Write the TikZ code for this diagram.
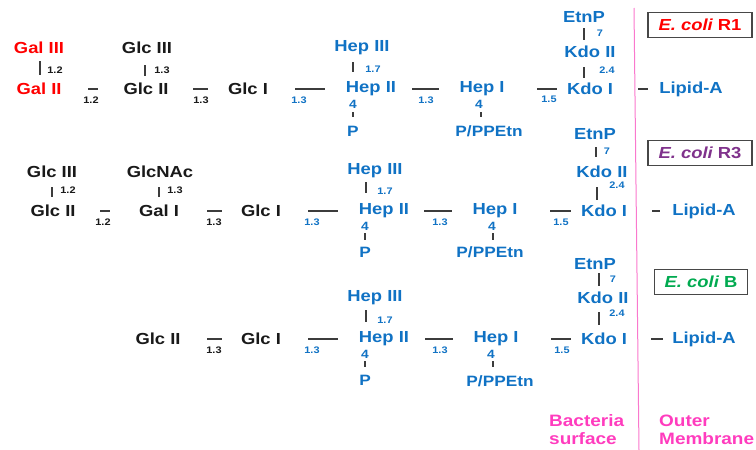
\documentclass[tikz,border=0pt]{standalone}
\usepackage{fontspec}
\setmainfont{Liberation Sans}[FakeStretch=1.15]
\definecolor{hblue}{RGB}{16,114,196}
\definecolor{gred}{RGB}{255,0,0}
\definecolor{pinktxt}{RGB}{255,60,190}
\definecolor{pinkline}{RGB}{250,120,205}
\definecolor{rpurple}{RGB}{128,50,140}
\definecolor{bgreen}{RGB}{0,170,80}
\definecolor{ink}{RGB}{25,25,25}
\tikzset{
  sugar/.style={inner sep=0pt, font=\fontsize{16}{16}\selectfont\bfseries, text=ink},
  core/.style={sugar, text=hblue},
  gal/.style={sugar, text=gred},
  posnum/.style={inner sep=0pt, font=\fontsize{12}{12}\selectfont\bfseries, text=hblue},
  phos/.style={inner sep=0pt, font=\fontsize{15}{15}\selectfont\bfseries, text=hblue},
  lnk/.style={inner sep=0pt, font=\fontsize{9.5}{9.5}\selectfont\bfseries, text=ink},
  lnkb/.style={lnk, text=hblue},
  bond/.style={draw=ink!85, line width=1.4pt},
  strainbox/.style={draw=ink!80, line width=1.3pt, fill=white, inner xsep=10.5pt,
    minimum height=25pt, font=\fontsize{16}{16}\selectfont\bfseries},
  zone/.style={inner sep=0pt, align=left, font=\fontsize{16.5}{18}\selectfont\bfseries, text=pinktxt}
}
\begin{document}
\begin{tikzpicture}[x=1pt,y=-1pt]
\useasboundingbox (0,0) rectangle (756,450);

% membrane boundary
\coordinate (memtop) at (634,8);
\coordinate (membot) at (639,450);
\draw[pinkline, line width=1pt] (memtop) -- (membot);

% ---------------- E. coli R1 ----------------
\node[gal]   (galIII)  at (39,48)  {Gal III};
\node[gal]   (galII)   at (39,89)  {Gal II};
\node[sugar] (glcIIIa) at (147,48) {Glc III};
\node[sugar] (glcIIa)  at (146,89) {Glc II};
\node[sugar] (glcIa)   at (248,89) {Glc I};
\node[core]  (hepIIIa) at (362,48) {Hep III};
\node[core]  (hepIIa)  at (371,89) {Hep II};
\node[posnum] (f4a)    at (353,104) {4};
\node[phos]  (pa)      at (353,131) {P};
\node[core]  (hepIa)   at (482,89) {Hep I};
\node[posnum] (f4b)    at (479,104) {4};
\node[phos]  (ppa)     at (489,131) {P/PPEtn};
\node[core]  (kdoIa)   at (590,89) {Kdo I};
\node[core]  (kdoIIa)  at (590,52) {Kdo II};
\node[core]  (etnPa)   at (584,17) {EtnP};
\node[core]  (lipa)    at (691,89) {Lipid-A};
\node[strainbox] (boxa) at (700,25) {\textcolor{gred}{\itshape E. coli} \textcolor{gred}{R1}};

\draw[bond] ([shift={(1,13)}]galIII.center) -- ([shift={(1,-14)}]galII.center);
\draw[bond] ([shift={(49,0)}]galII.center) -- ([shift={(-48,0)}]glcIIa.center);
\draw[bond] ([shift={(-2,17)}]glcIIIa.center) -- ([shift={(-1,-13)}]glcIIa.center);
\draw[bond] ([shift={(47,0)}]glcIIa.center) -- ([shift={(-40,0)}]glcIa.center);
\draw[bond] ([shift={(47,0)}]glcIa.center) -- ([shift={(-46,0)}]hepIIa.center);
\draw[bond] ([shift={(-9,14)}]hepIIIa.center) -- ([shift={(-18,-17)}]hepIIa.center);
\draw[bond] ([shift={(0,8)}]f4a.center) -- ([shift={(0,-14)}]pa.center);
\draw[bond] ([shift={(41,0)}]hepIIa.center) -- ([shift={(-43,0)}]hepIa.center);
\draw[bond] ([shift={(2,8)}]f4b.center) -- ([shift={(-8,-14)}]ppa.center);
\draw[bond] ([shift={(55,0)}]hepIa.center) -- ([shift={(-33,0)}]kdoIa.center);
\draw[bond] ([shift={(-6,15)}]kdoIIa.center) -- ([shift={(-6,-11)}]kdoIa.center);
\draw[bond] ([shift={(0,11)}]etnPa.center) -- ([shift={(-6,-12)}]kdoIIa.center);
\draw[bond] ([shift={(48,0)}]kdoIa.center) -- ([shift={(-43,0)}]lipa.center);

\node[lnk]  (l1a) at (55,70)  {1.2};
\node[lnk]  (l2a) at (91,100) {1.2};
\node[lnk]  (l3a) at (162,70) {1.3};
\node[lnk]  (l4a) at (201,100) {1.3};
\node[lnkb] (l5a) at (299,100) {1.3};
\node[lnkb] (l6a) at (373,69) {1.7};
\node[lnkb] (l7a) at (426,100) {1.3};
\node[lnkb] (l8a) at (549,99) {1.5};
\node[lnkb] (l9a) at (607,70) {2.4};
\node[lnkb] (l10a) at (600,33) {7};

% ---------------- E. coli R3 ----------------
\node[sugar] (glcIIIb) at (52,172)  {Glc III};
\node[sugar] (glcIIb)  at (53,211)  {Glc II};
\node[sugar] (glcNAc)  at (160,172) {GlcNAc};
\node[sugar] (galIb)   at (159,211) {Gal I};
\node[sugar] (glcIb)   at (261,211) {Glc I};
\node[core]  (hepIIIb) at (375,171) {Hep III};
\node[core]  (hepIIb)  at (384,211) {Hep II};
\node[posnum] (f4c)    at (365,226) {4};
\node[phos]  (pb)      at (365,252) {P};
\node[core]  (hepIb)   at (495,211) {Hep I};
\node[posnum] (f4d)    at (492,226) {4};
\node[phos]  (ppb)     at (490,252) {P/PPEtn};
\node[core]  (kdoIb)   at (604,211) {Kdo I};
\node[core]  (kdoIIb)  at (602,172) {Kdo II};
\node[core]  (etnPb)   at (595,134) {EtnP};
\node[core]  (lipb)    at (704,211) {Lipid-A};
\node[strainbox] (boxb) at (700,153) {\textcolor{rpurple}{\itshape E. coli} \textcolor{rpurple}{R3}};

\draw[bond] ([shift={(0,15)}]glcIIIb.center) -- ([shift={(-1,-14)}]glcIIb.center);
\draw[bond] ([shift={(47,0)}]glcIIb.center) -- ([shift={(-49,0)}]galIb.center);
\draw[bond] ([shift={(-1,15)}]glcNAc.center) -- ([shift={(0,-14)}]galIb.center);
\draw[bond] ([shift={(48,0)}]galIb.center) -- ([shift={(-39,0)}]glcIb.center);
\draw[bond] ([shift={(47,0)}]glcIb.center) -- ([shift={(-46,0)}]hepIIb.center);
\draw[bond] ([shift={(-9,11)}]hepIIIb.center) -- ([shift={(-18,-18)}]hepIIb.center);
\draw[bond] ([shift={(0,7)}]f4c.center) -- ([shift={(0,-12)}]pb.center);
\draw[bond] ([shift={(40,0)}]hepIIb.center) -- ([shift={(-43,0)}]hepIb.center);
\draw[bond] ([shift={(1,7)}]f4d.center) -- ([shift={(3,-12)}]ppb.center);
\draw[bond] ([shift={(55,0)}]hepIb.center) -- ([shift={(-33,0)}]kdoIb.center);
\draw[bond] ([shift={(1,13)}]etnPb.center) -- ([shift={(-6,-15)}]kdoIIb.center);
\draw[bond] ([shift={(-5,15)}]kdoIIb.center) -- ([shift={(-7,-11)}]kdoIb.center);
\draw[bond] ([shift={(48,0)}]kdoIb.center) -- ([shift={(-44,0)}]lipb.center);

\node[lnk]  (l1b) at (68,190)  {1.2};
\node[lnk]  (l2b) at (103,222) {1.2};
\node[lnk]  (l3b) at (175,190) {1.3};
\node[lnk]  (l4b) at (214,222) {1.3};
\node[lnkb] (l5b) at (312,222) {1.3};
\node[lnkb] (l6b) at (385,191) {1.7};
\node[lnkb] (l7b) at (440,222) {1.3};
\node[lnkb] (l8b) at (561,222) {1.5};
\node[lnkb] (l9b) at (617,185) {2.4};
\node[lnkb] (l10b) at (607,151) {7};

% ---------------- E. coli B ----------------
\node[sugar] (glcIIc)  at (158,339) {Glc II};
\node[sugar] (glcIc)   at (261,339) {Glc I};
\node[core]  (hepIIIc) at (375,298) {Hep III};
\node[core]  (hepIIc)  at (384,339) {Hep II};
\node[posnum] (f4e)    at (365,354) {4};
\node[phos]  (pc)      at (365,380) {P};
\node[core]  (hepIc)   at (496,339) {Hep I};
\node[posnum] (f4f)    at (491,354) {4};
\node[phos]  (ppc)     at (500,381) {P/PPEtn};
\node[core]  (kdoIc)   at (604,339) {Kdo I};
\node[core]  (kdoIIc)  at (603,298) {Kdo II};
\node[core]  (etnPc)   at (595,264) {EtnP};
\node[core]  (lipc)    at (704,339) {Lipid-A};
\node[strainbox] (boxc) at (701,282) {\textcolor{bgreen}{\itshape E. coli} \textcolor{bgreen}{B}};

\draw[bond] ([shift={(49,0)}]glcIIc.center) -- ([shift={(-39,0)}]glcIc.center);
\draw[bond] ([shift={(47,0)}]glcIc.center) -- ([shift={(-46,0)}]hepIIc.center);
\draw[bond] ([shift={(-9,12)}]hepIIIc.center) -- ([shift={(-18,-17)}]hepIIc.center);
\draw[bond] ([shift={(0,7)}]f4e.center) -- ([shift={(0,-13)}]pc.center);
\draw[bond] ([shift={(41,0)}]hepIIc.center) -- ([shift={(-43,0)}]hepIc.center);
\draw[bond] ([shift={(2,7)}]f4f.center) -- ([shift={(-7,-14)}]ppc.center);
\draw[bond] ([shift={(55,0)}]hepIc.center) -- ([shift={(-33,0)}]kdoIc.center);
\draw[bond] ([shift={(4,9)}]etnPc.center) -- ([shift={(-4,-12)}]kdoIIc.center);
\draw[bond] ([shift={(-4,14)}]kdoIIc.center) -- ([shift={(-5,-14)}]kdoIc.center);
\draw[bond] ([shift={(47,0)}]kdoIc.center) -- ([shift={(-41,0)}]lipc.center);

\node[lnk]  (l4c) at (214,350) {1.3};
\node[lnkb] (l5c) at (312,350) {1.3};
\node[lnkb] (l6c) at (385,320) {1.7};
\node[lnkb] (l7c) at (440,350) {1.3};
\node[lnkb] (l8c) at (562,350) {1.5};
\node[lnkb] (l9c) at (617,313) {2.4};
\node[lnkb] (l10c) at (613,279) {7};

% ---------------- zones ----------------
\node[zone, anchor=west] (surf) at (549,430) {Bacteria\\surface};
\node[zone, anchor=west] (outer) at (659,430) {Outer\\Membrane};
\end{tikzpicture}
\end{document}
